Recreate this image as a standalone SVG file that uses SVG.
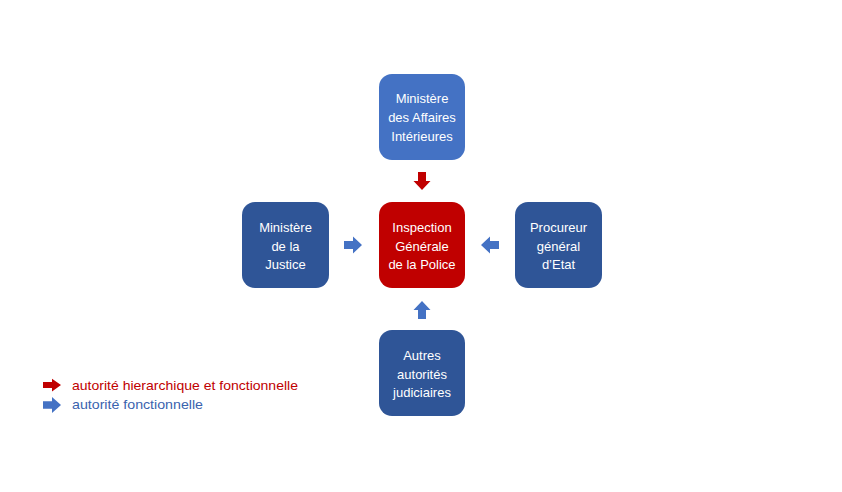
<svg xmlns="http://www.w3.org/2000/svg" width="842" height="492" viewBox="0 0 842 492">
<style>
.box{stroke:none}
.lt{fill:#4472C4}
.dk{fill:#2F5597}
.rd{fill:#C00000}
.t{font-family:"Liberation Sans",Arial,sans-serif;font-size:13px;fill:#FFFFFF;text-anchor:middle}
.lg{font-family:"Liberation Sans",Arial,sans-serif;font-size:13.5px}
</style>
<defs>
<path id="arr" d="M-9,-4 L0,-4 L0,-8.5 L9,0 L0,8.5 L0,4 L-9,4 Z"/>
</defs>
<rect width="842" height="492" fill="#FFFFFF"/>
<g id="node-mai">
<rect class="box lt" x="379" y="74" width="86" height="86" rx="13"/>
<text class="t" x="422" y="103">Ministère</text>
<text class="t" x="422" y="122">des Affaires</text>
<text class="t" x="422" y="141">Intérieures</text>
</g>
<g id="node-igp">
<rect class="box rd" x="379" y="202" width="86" height="86" rx="13"/>
<text class="t" x="422" y="232">Inspection</text>
<text class="t" x="422" y="251">Générale</text>
<text class="t" x="422" y="269">de la Police</text>
</g>
<g id="node-mj">
<rect class="box dk" x="242" y="202" width="87" height="86" rx="13"/>
<text class="t" x="285.5" y="232">Ministère</text>
<text class="t" x="285.5" y="251">de la</text>
<text class="t" x="285.5" y="269">Justice</text>
</g>
<g id="node-pge">
<rect class="box dk" x="515" y="202" width="87" height="86" rx="13"/>
<text class="t" x="558.5" y="232">Procureur</text>
<text class="t" x="558.5" y="251">général</text>
<text class="t" x="558.5" y="269">d’Etat</text>
</g>
<g id="node-aaj">
<rect class="box dk" x="379" y="330" width="86" height="86" rx="13"/>
<text class="t" x="422" y="360">Autres</text>
<text class="t" x="422" y="379">autorités</text>
<text class="t" x="422" y="397">judiciaires</text>
</g>
<g id="connectors">
<use href="#arr" class="rd" transform="translate(422,181) rotate(90)"/>
<use href="#arr" class="lt" transform="translate(353,245)"/>
<use href="#arr" class="lt" transform="translate(490,245) rotate(180)"/>
<use href="#arr" class="lt" transform="translate(422,310) rotate(-90)"/>
</g>
<g id="legend">
<use href="#arr" class="rd" transform="translate(52,385) scale(1,0.75)"/>
<text class="lg" x="72" y="390" fill="#C00000" textLength="226" lengthAdjust="spacingAndGlyphs">autorité hierarchique et fonctionnelle</text>
<use href="#arr" class="lt" transform="translate(52,405) scale(1,0.95)"/>
<text class="lg" x="72" y="409" fill="#3A63AE" textLength="131" lengthAdjust="spacingAndGlyphs">autorité fonctionnelle</text>
</g>
</svg>
